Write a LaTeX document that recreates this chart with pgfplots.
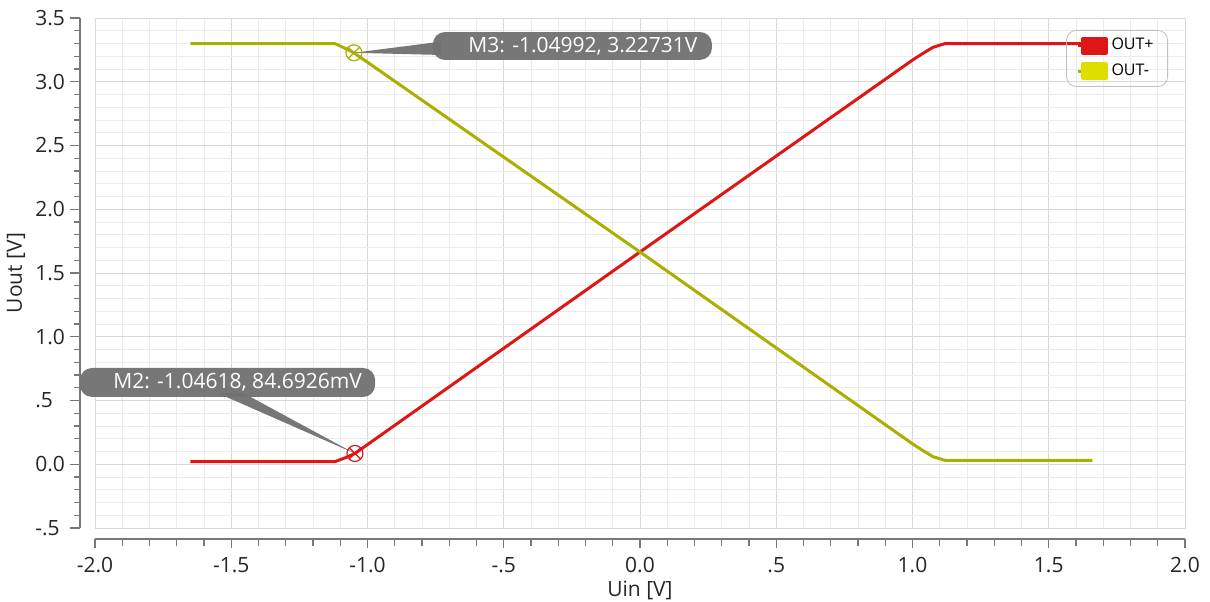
\documentclass[border=0pt]{standalone}
\usepackage{fontspec}
\setmainfont{Open Sans}
\usepackage{pgfplots}
\pgfplotsset{compat=1.18}
\usetikzlibrary{plotmarks}
\definecolor{outp}{RGB}{222,22,22}
\definecolor{outm}{RGB}{170,176,0}
\definecolor{outmleg}{RGB}{222,222,0}
\definecolor{callout}{RGB}{112,112,112}
\definecolor{axgray}{RGB}{120,120,120}
\begin{document}
\begin{tikzpicture}
\begin{axis}[
  name=ax,
  scale only axis,
  width=545pt, height=255pt,
  xmin=-2, xmax=2, ymin=-0.5, ymax=3.5,
  xtick={-2,-1.5,-1,-0.5,0,0.5,1,1.5,2},
  xticklabels={-2.0,-1.5,-1.0,-.5,0.0,.5,1.0,1.5,2.0},
  ytick={-0.5,0,0.5,1,1.5,2,2.5,3,3.5},
  yticklabels={-.5,0.0,.5,1.0,1.5,2.0,2.5,3.0,3.5},
  minor x tick num=4, minor y tick num=4,
  grid=both,
  major grid style={draw=black!15, line width=0.5pt},
  minor grid style={draw=black!8, line width=0.5pt},
  axis line style={draw=black!15},
  major tick length=0pt, minor tick length=0pt,
  tick label style={font=\fontsize{10.5}{12}\selectfont, text=black!85},
  xticklabel style={anchor=north, inner sep=0pt, yshift=-14.5pt},
  yticklabel style={anchor=west, inner sep=0pt, xshift=-30pt},
  xlabel={Uin [V]}, ylabel={Uout [V]},
  label style={font=\fontsize{10.5}{12}\selectfont, text=black!85},
  xlabel style={at={(axis description cs:0.5,0)}, anchor=center, yshift=-31pt},
  ylabel style={at={(axis description cs:-0.0725,0.5)}, anchor=center},
  clip=false,
  legend style={at={(axis description cs:0.9844,0.9765)}, anchor=north east,
    draw=black!25, fill=none, rounded corners=5pt, font=\fontsize{8}{9}\selectfont,
    inner xsep=5pt, inner ysep=2pt, row sep=1.5pt, cells={anchor=west}},
]
\addplot[outp, line width=1.5pt, line join=round,
  legend image code/.code={\path (0pt,0pt) -- (2pt,0pt);\fill[outp, sharp corners] (2pt,-3.75pt) rectangle (14pt,3.75pt);}]
  coordinates {(-1.65,0.02) (-1.12,0.02) (-1.08,0.052) (-1.04618,0.0847)
  (0,1.665) (1.0,3.17) (1.04,3.225) (1.075,3.27) (1.12,3.30) (1.65,3.30)};
\addlegendentry{OUT+}
\addplot[outm, line width=1.5pt, line join=round,
  legend image code/.code={\path (0pt,0pt) -- (2pt,0pt);\fill[outmleg, sharp corners] (2pt,-3.75pt) rectangle (14pt,3.75pt);}]
  coordinates {(-1.65,3.30) (-1.12,3.30) (-1.08,3.26) (-1.04992,3.22731)
  (0,1.665) (1.0,0.16) (1.04,0.105) (1.075,0.06) (1.12,0.03) (1.66,0.03)};
\addlegendentry{OUT-}
\addplot[only marks, mark=otimes, mark size=4pt, outp, mark options={line width=0.6pt}, forget plot]
  coordinates {(-1.04618,0.0846926)};
\addplot[only marks, mark=otimes, mark size=4pt, outm, mark options={line width=0.6pt}, forget plot]
  coordinates {(-1.04992,3.22731)};
% callouts
\fill[callout, opacity=0.95] (axis cs:-1.04992,3.22731) -- (axis cs:-0.73,3.315) -- (axis cs:-0.73,3.21) -- cycle;
\fill[callout, opacity=0.95, rounded corners=6pt] (axis cs:-0.760,3.171) rectangle (axis cs:0.264,3.390);
\node[anchor=west, inner sep=0pt, text=white, font=\fontsize{10.5}{12}\selectfont] at (axis cs:-0.631,3.282) {M3: -1.04992, 3.22731V};
\fill[callout, opacity=0.95] (axis cs:-1.04618,0.0847) -- (axis cs:-1.552,0.56) -- (axis cs:-1.457,0.56) -- cycle;
\fill[callout, opacity=0.95, rounded corners=6pt] (axis cs:-2.055,0.528) rectangle (axis cs:-0.972,0.755);
\node[anchor=west, inner sep=0pt, text=white, font=\fontsize{10.5}{12}\selectfont] at (axis cs:-1.934,0.643) {M2: -1.04618, 84.6926mV};
\end{axis}
% detached axis lines and ticks
\begin{scope}[shift={(ax.south west)}, axgray, line width=0.6pt]
  \draw (-7.5pt,0pt) -- (-7.5pt,255pt);
  \foreach \i in {0,...,40}{
    \pgfmathsetmacro{\yy}{\i*6.375}
    \pgfmathtruncatemacro{\m}{mod(\i,5)}
    \ifnum\m=0
      \draw (-7.5pt,\yy pt) -- (-12.5pt,\yy pt);
    \else
      \draw (-7.5pt,\yy pt) -- (-10.5pt,\yy pt);
    \fi
  }
  \draw (0pt,-5.5pt) -- (545pt,-5.5pt);
  \foreach \i in {0,...,40}{
    \pgfmathsetmacro{\xx}{\i*13.625}
    \pgfmathtruncatemacro{\m}{mod(\i,5)}
    \ifnum\m=0
      \draw (\xx pt,-5.5pt) -- (\xx pt,-10pt);
    \else
      \draw (\xx pt,-5.5pt) -- (\xx pt,-9pt);
    \fi
  }
\end{scope}
\pgfresetboundingbox
\path ([xshift=-47.5pt,yshift=-36.5pt]ax.south west) rectangle ([xshift=12.5pt,yshift=9pt]ax.north east);
\end{tikzpicture}
\end{document}
